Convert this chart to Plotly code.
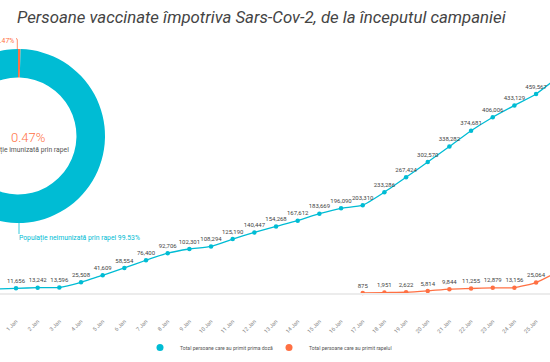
import plotly.graph_objects as go

# ---------------- data ----------------
days = ["31 Dec", "1 Jan", "2 Jan", "3 Jan", "4 Jan", "5 Jan", "6 Jan", "7 Jan", "8 Jan",
        "9 Jan", "10 Jan", "11 Jan", "12 Jan", "13 Jan", "14 Jan", "15 Jan", "16 Jan",
        "17 Jan", "18 Jan", "19 Jan", "20 Jan", "21 Jan", "22 Jan", "23 Jan", "24 Jan",
        "25 Jan", "26 Jan"]
first_dose = [10289, 11656, 13242, 13596, 25508, 41609, 58554, 76400, 92706,
              102301, 108294, 125190, 140447, 154268, 167612, 183669, 196090,
              203310, 233286, 267424, 302570, 338282, 374681, 406006, 433129,
              459567, 498000]
booster = [None] * 17 + [875, 1951, 2622, 5814, 9844, 11255, 12879, 13156, 25064, 50000]

series_names = ["Total persoane care au primit prima doză",
                "Total persoane care au primit rapelul"]
pie_labels = ["Populație imunizată prin rapel", "Populație neimunizată prin rapel"]
pie_values = [0.47, 99.53]
title_text = "Persoane vaccinate împotriva Sars-Cov-2, de la începutul campaniei"

# ---------------- styling ----------------
CYAN = "#00bcd4"
ORANGE = "#ff7043"
FONT = "Roboto"

S = 69            # part of the chart lying left of the visible window
W = 550 + S
H = 362


def px(wx):
    return (wx + S) / W


def py(wy):
    return 1 - wy / H


fig = go.Figure()

# donut
fig.add_trace(go.Pie(
    labels=pie_labels, values=pie_values, sort=False, direction="counterclockwise",
    hole=0.672, marker=dict(colors=[ORANGE, CYAN]), textinfo="none",
    showlegend=False, domain=dict(x=[0, 174 / W], y=[py(223), py(49)]),
))

# lines
for vals, col, name in [(first_dose, CYAN, series_names[0]), (booster, ORANGE, series_names[1])]:
    fig.add_trace(go.Scatter(
        x=days, y=vals, mode="lines+markers+text", name=name,
        line=dict(color=col, width=1.3, shape="spline", smoothing=0.5),
        marker=dict(color=col, size=4.5),
        texttemplate="%{y:,}", textposition="top center",
        textfont=dict(family=FONT, size=6, color="#444"),
        cliponaxis=False, showlegend=False,
    ))
    fig.add_trace(go.Scatter(
        x=[None], y=[None], mode="markers", name=name,
        marker=dict(color=col, size=7), showlegend=True,
    ))

k = 21.67
r0 = 1 - 16 / k
fig.update_xaxes(
    type="category", domain=[px(0), 1], range=[r0, r0 + 550 / k], automargin=False,
    showgrid=False, zeroline=False, showline=True, linecolor="#ececec", linewidth=1.5,
    ticks="", tickangle=-45, ticklabelstandoff=21,
    tickfont=dict(family=FONT, size=5.5, color="#888"),
)
fig.update_yaxes(
    domain=[py(293.4), py(40)], range=[0, (293.4 - 40) / 0.000434],
    visible=False, showgrid=False, zeroline=False, automargin=False,
)

ann = [
    dict(text=title_text, x=px(261), y=py(17), xanchor="center", yanchor="middle",
         font=dict(family=FONT, size=16.8, color="#444", style="italic")),
    dict(text=f"{pie_values[0]:.2f}%", x=px(27.7), y=py(137), xanchor="center", yanchor="middle",
         font=dict(family=FONT, size=13, color=ORANGE, weight=300)),
    dict(text=pie_labels[0], x=px(24), y=py(150), xanchor="center", yanchor="middle",
         font=dict(family=FONT, size=6.8, color="#555")),
    dict(text=f"{pie_values[0]:.2f}%", x=px(15.8), y=py(41), xanchor="right", yanchor="middle",
         font=dict(family=FONT, size=6.8, color=ORANGE)),
    dict(text=f"{pie_labels[1]} {pie_values[1]:.2f}%", x=px(17), y=py(238), xanchor="left",
         yanchor="middle", font=dict(family=FONT, size=6.8, color=CYAN)),
]
for a in ann:
    a.update(xref="paper", yref="paper", showarrow=False)

shapes = [
    dict(type="path", xref="paper", yref="paper",
         path=f"M {px(17.3)},{py(49)} L {px(17.3)},{py(40)} Q {px(17.3)},{py(38.5)} {px(16)},{py(38.5)}",
         line=dict(color=ORANGE, width=0.8)),
    dict(type="line", xref="paper", yref="paper", x0=px(19), x1=px(19), y0=py(223), y1=py(234),
         line=dict(color=CYAN, width=0.8)),
]

fig.update_layout(
    width=W, height=H, margin=dict(l=0, r=0, t=0, b=0),
    paper_bgcolor="white", plot_bgcolor="white",
    font=dict(family=FONT),
    annotations=ann, shapes=shapes,
    legend=dict(orientation="h", x=px(269), xanchor="center", y=0, yanchor="bottom",
                font=dict(family=FONT, size=5.1, color="#555"), itemwidth=30,
                entrywidth=84, entrywidthmode="pixels"),
)

post = ("document.body.style.margin='0';document.body.style.overflow='hidden';"
        "var d=document.getElementById('{plot_id}');d.style.marginLeft='-" + str(S) + "px';")
fig.write_html("out.html", post_script=post, config={"displayModeBar": False})
